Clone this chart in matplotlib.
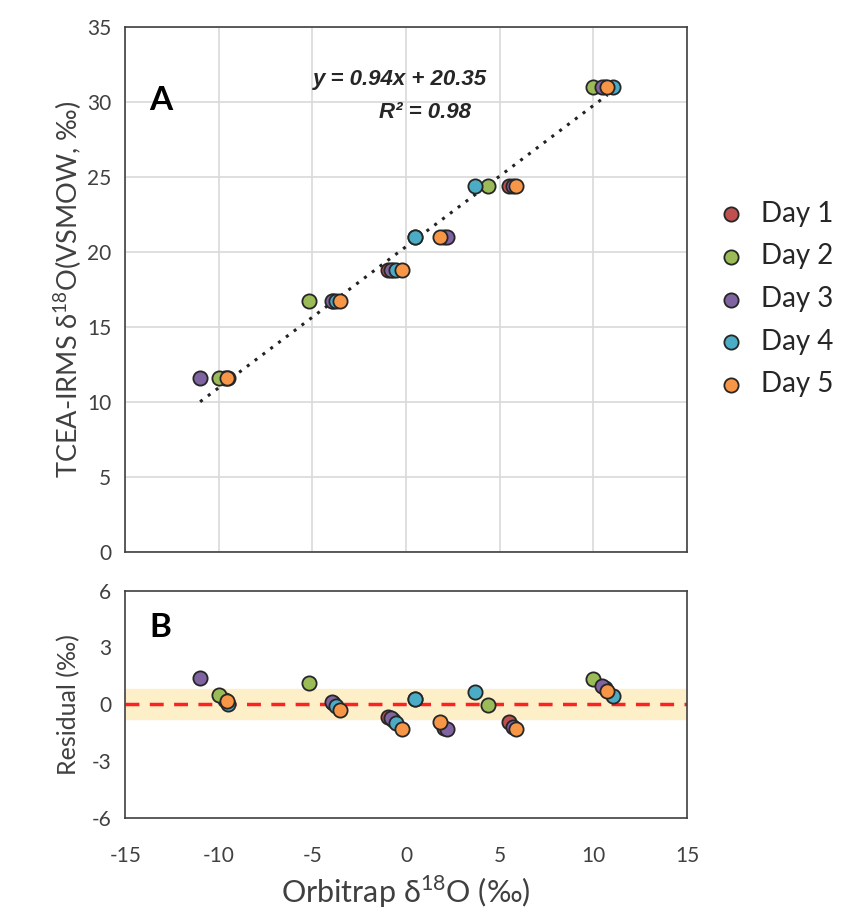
import matplotlib

matplotlib.use("Agg")
import matplotlib.pyplot as plt
import numpy as np

plt.rcParams["font.family"] = ["Lato", "DejaVu Sans"]
plt.rcParams["mathtext.fontset"] = "custom"
plt.rcParams["mathtext.rm"] = "Lato"
plt.rcParams["axes.unicode_minus"] = False

DAYS = ["Day 1", "Day 2", "Day 3", "Day 4", "Day 5"]
COLORS = ["#C0504D", "#9BBB59", "#8064A2", "#4BACC6", "#F79646"]

# TCEA-IRMS reference value of each standard
tcea = [11.6, 16.7, 18.8, 21.0, 24.4, 31.0]

# Orbitrap d18O per day (rows = days, cols = standards)
orbi = [
    [-9.65, -3.90, -0.95, 2.05, 5.47, 10.60],
    [-9.97, -5.16, -0.70, 0.45, 4.40, 9.97],
    [-10.98, -3.97, -0.80, 2.17, 5.70, 10.45],
    [-9.49, -3.75, -0.53, 0.48, 3.68, 11.07],
    [-9.58, -3.52, -0.23, 1.82, 5.87, 10.75],
]

# residuals
resid = [
    [0.20, 0.05, -0.65, -1.28, -0.96, 0.85],
    [0.47, 1.14, -0.85, 0.28, -0.05, 1.35],
    [1.40, 0.12, -0.75, -1.32, -1.20, 0.96],
    [0.00, -0.10, -1.00, 0.26, 0.65, 0.41],
    [0.17, -0.32, -1.32, -0.96, -1.32, 0.70],
]

slope, intercept = 0.94, 20.35
fit_x = [-11.0, 10.75]
band = 0.8

fig = plt.figure(figsize=(8.46, 9.23), dpi=100)
ax = fig.add_axes([0.148, 0.402, 0.664, 0.569])
axb = fig.add_axes([0.148, 0.114, 0.664, 0.246])

mk = dict(s=105, edgecolors="#262626", linewidths=1.3, zorder=3)
txt = "#404040"

fx = np.array(fit_x)
ax.plot(fx, slope * fx + intercept, ls=(0, (1, 2.2)), lw=2.2, color="#222222", zorder=2)
for i, day in enumerate(DAYS):
    ax.scatter(orbi[i], tcea, color=COLORS[i], label=day, **mk)

ax.set_xlim(-15, 15)
ax.set_ylim(0, 35)
ax.set_xticks(range(-15, 16, 5))
ax.set_yticks(range(0, 36, 5))
ax.tick_params(labelbottom=False, length=0, labelsize=15, colors=txt, pad=10)
ax.grid(color="#d9d9d9", lw=1.2)
ax.set_axisbelow(True)
ax.set_ylabel("TCEA-IRMS δ$^{18}$O(VSMOW, ‰)", fontsize=19.5, color=txt, labelpad=2)
ax.text(-13.7, 30.1, "A", fontsize=24, fontweight="bold", ha="left", va="center")
eq_font = ["Liberation Sans", "DejaVu Sans"]
ax.text(-0.3, 31.5, "y = 0.94x + 20.35", fontsize=16, fontweight="bold", style="italic",
        ha="center", va="center", family=eq_font, color="#262626")
ax.text(1.0, 29.3, "R² = 0.98", fontsize=16, fontweight="bold", style="italic",
        ha="center", va="center", family=eq_font, color="#262626")

axb.axhspan(-band, band, color="#FDEFC8", zorder=0)
axb.axhline(0, color="#FF2020", ls=(0, (4, 3)), lw=2.5, zorder=1)
for i, day in enumerate(DAYS):
    axb.scatter(orbi[i], resid[i], color=COLORS[i], **mk)
axb.set_xlim(-15, 15)
axb.set_ylim(-6, 6)
axb.set_xticks(range(-15, 16, 5))
axb.set_yticks(range(-6, 7, 3))
axb.tick_params(axis="y", length=0, labelsize=15, colors=txt, pad=10)
axb.tick_params(axis="x", length=0, labelsize=15, colors=txt, pad=20)
axb.set_ylabel("Residual (‰)", fontsize=18, color=txt, labelpad=8)
axb.set_xlabel("Orbitrap δ$^{18}$O (‰)", fontsize=22, color=txt, labelpad=6)
axb.text(-13.7, 4.05, "B", fontsize=24, fontweight="bold", ha="left", va="center")

for a in (ax, axb):
    for sp in a.spines.values():
        sp.set_color(txt)
        sp.set_linewidth(1.2)

h, l = ax.get_legend_handles_labels()
fig.legend(h, l, loc="center left", bbox_to_anchor=(0.834, 0.676), frameon=False,
           fontsize=20, labelspacing=0.6, handlelength=1.0, handletextpad=0.6,
           borderaxespad=0, labelcolor="#262626")

fig.savefig("out.png", dpi=100)
